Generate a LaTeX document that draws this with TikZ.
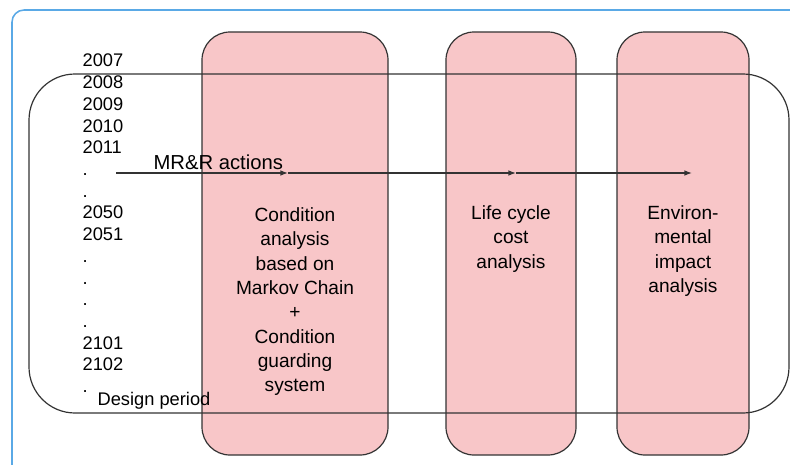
\documentclass[tikz,border=0pt]{standalone}
\usepackage{fontspec}
\setmainfont{Liberation Sans}
\usepackage{tikz}
\usetikzlibrary{arrows.meta}
\definecolor{frameblue}{HTML}{5AA9E6}
\definecolor{boxpink}{HTML}{F8C6C8}
\definecolor{linegray}{HTML}{333333}
\tikzstyle{framebox}=[
        draw=frameblue,
        line width=1.1pt,
        rounded corners=3mm
]
\tikzstyle{stage}=[
        draw=linegray,
        fill=boxpink,
        rounded corners=7mm
]
\tikzstyle{period}=[
        draw=linegray,
        rounded corners=11.5mm
]
\tikzstyle{year}=[anchor=base west, inner sep=0pt]
\tikzstyle{stagetext}=[
        anchor=north,
        inner sep=0pt,
        align=center,
        font=\fontsize{13.6}{17.3}\selectfont
]
\tikzstyle{flow}=[
        draw=linegray,
        -{Latex[length=1.9mm,width=1.4mm]}
]

\begin{document}
\begin{tikzpicture}[x=0.25mm, y=-0.25mm, line width=0.85pt, font=\fontsize{13}{15.4}\selectfont]
                    \useasboundingbox (0,0) rectangle (790,465);
                    \clip (0,0) rectangle (790,465);
                    \draw[framebox] (12,10) rectangle (830,500);

                    % the three analysis stages
                    \draw[stage] (202,32) rectangle (388,455);
                    \draw[stage] (446,32) rectangle (576,455);
                    \draw[stage] (617,32) rectangle (749,455);

                    \node[stagetext] (cond) at (295,207) {Condition\\analysis\\based on\\Markov Chain\\+\\Condition\\guarding\\system};
                    \node[stagetext] (lcc) at (511,205) {Life cycle\\cost\\analysis};
                    \node[stagetext] (env) at (683,205) {Environ-\\mental\\impact\\analysis};

                    % design period
                    \draw[period] (29,74) rectangle (789,413);

                    \foreach \yr [count=\i from 0] in {2007,2008,2009,2010,2011,.,.,2050,2051,.,.,.,.,2101,2102,.} {
                        \node[year] (y\i) at (82,67+21.7*\i) {\yr};
                    }
                    \node[year] (design) at (97,405) {Design period};

                    % MR&R actions flow
                    \coordinate (start) at (116,173);
                    \coordinate (a1) at (288,173);
                    \coordinate (a2) at (516,173);
                    \coordinate (a3) at (692,173);
                    \node[year, font=\fontsize{14.4}{16}\selectfont] (mrr) at (153,169) {MR\&R actions};

                    \draw[flow] (start) -- (a1);
                    \draw[flow] (a1) -- (a2);
                    \draw[flow] (a2) -- (a3);
                \end{tikzpicture}
\end{document}
